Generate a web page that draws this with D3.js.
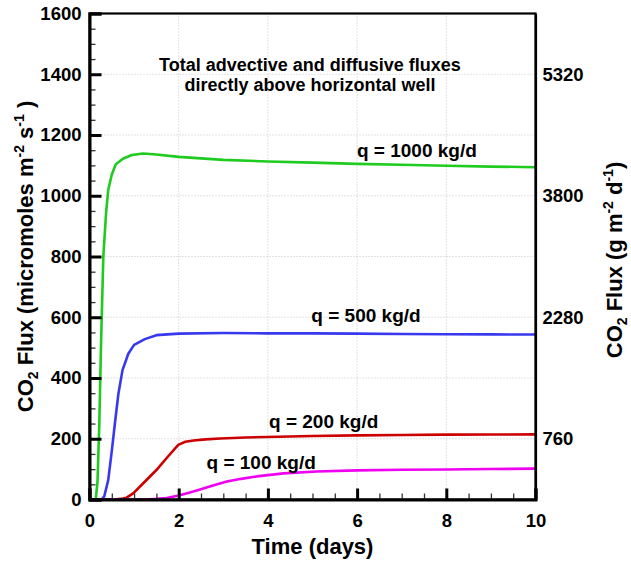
<!DOCTYPE html>
<html>
<head>
<meta charset="utf-8">
<script src="https://cdn.jsdelivr.net/npm/d3@7"></script>
<style>
  body { margin: 0; background: #fff; }
  svg { display: block; font-family: "Liberation Sans", Arial, sans-serif; font-weight: bold; }
</style>
</head>
<body>
<svg id="chart" width="631" height="565"></svg>
<script>
// Time (days) and CO2 flux (micromoles m-2 s-1) for each injection rate
const t1000 = [0, 0.14, 0.18, 0.22, 0.26, 0.31, 0.37, 0.42, 0.5, 0.59, 0.75, 0.95, 1.2, 1.5, 2, 3, 4, 5, 6, 7, 8, 9, 10];
const q1000 = [0, 0, 60, 250, 520, 800, 940, 1019, 1070, 1104, 1122, 1134, 1139, 1136, 1128, 1118, 1113, 1109, 1105, 1102, 1099, 1096, 1094];

const t500 = [0, 0.27, 0.33, 0.42, 0.5, 0.57, 0.65, 0.74, 0.87, 1.0, 1.24, 1.5, 2, 3, 4, 5, 6, 7, 8, 9, 10];
const q500 = [0, 0, 10, 64, 160, 251, 350, 426, 480, 509, 528, 541, 546, 548, 547, 547, 546, 545, 544, 543.5, 543];

const t200 = [0, 0.45, 0.6, 0.75, 0.83, 0.98, 1.25, 1.5, 1.75, 1.99, 2.15, 2.33, 2.6, 2.93, 3.5, 3.97, 5, 6, 7, 8, 9, 10];
const q200 = [0, 0, 1, 3, 6, 20, 60, 97, 140, 180, 190, 194, 198, 201, 204, 206, 209, 211, 212.5, 213.5, 214, 214.5];

const t100 = [0, 1.28, 1.5, 1.73, 2.0, 2.25, 2.48, 2.75, 3.08, 3.4, 3.75, 4.35, 5.09, 6, 7, 8, 9, 10];
const q100 = [0, 0, 2, 5, 13, 23, 33, 45, 59, 68, 76, 86, 92, 96, 98, 99, 100.5, 101.5];

const seriesNames = ["q = 1000 kg/d", "q = 500 kg/d", "q = 200 kg/d", "q = 100 kg/d"];
const seriesColors = ["#1ecb1e", "#3838ee", "#cc0000", "#f000f0"];

const xTicks = [0, 2, 4, 6, 8, 10];
const yTicks = [0, 200, 400, 600, 800, 1000, 1200, 1400, 1600];
const yRightTicks = [760, 2280, 3800, 5320];

// 1 micromole CO2 m-2 s-1 = 3.8 g m-2 d-1
const convFactor = 3.8;

const titleLines = ["Total advective and diffusive fluxes", "directly above horizontal well"];

const svg = d3.select("#chart");
const plotL = 89.5, plotR = 535.5, plotT = 13.5, plotB = 499.5;

const x = d3.scaleLinear().domain([0, 10]).range([plotL, plotR]);
const y = d3.scaleLinear().domain([0, 1600]).range([plotB, plotT]);
const yR = d3.scaleLinear().domain([0, 1600 * convFactor]).range([plotB, plotT]);

// dotted grid at the major ticks
const grid = svg.append("g").attr("stroke", "#c4c4c4").attr("stroke-width", 1).attr("stroke-dasharray", "1,2");
xTicks.filter(v => v > 0 && v < 10).forEach(v => {
  grid.append("line").attr("x1", x(v)).attr("x2", x(v)).attr("y1", plotT).attr("y2", plotB);
});
yTicks.filter(v => v > 0 && v < 1600).forEach(v => {
  grid.append("line").attr("x1", plotL).attr("x2", plotR).attr("y1", y(v)).attr("y2", y(v));
});

// curves
const series = [[t1000, q1000], [t500, q500], [t200, q200], [t100, q100]];
const line = d3.line().x(d => x(d[0])).y(d => y(d[1]));
series.forEach((s, i) => {
  const pts = s[0].map((t, j) => [t, s[1][j]]);
  svg.append("path").datum(pts)
    .attr("fill", "none")
    .attr("stroke", seriesColors[i])
    .attr("stroke-width", 2.6)
    .attr("stroke-linejoin", "round")
    .attr("d", line);
});

// curve labels, anchored in data space
const labelPos = [[7.34, 1128], [6.2, 585], [5.25, 235], [3.85, 100]];
seriesNames.forEach((name, i) => {
  svg.append("text")
    .attr("x", x(labelPos[i][0]))
    .attr("y", y(labelPos[i][1]))
    .attr("text-anchor", "middle")
    .attr("font-size", 19)
    .attr("fill", "#000")
    .text(name);
});

// frame
svg.append("rect")
  .attr("x", plotL).attr("y", plotT)
  .attr("width", plotR - plotL).attr("height", plotB - plotT)
  .attr("fill", "none").attr("stroke", "#000").attr("stroke-width", 2.2);

// minor ticks
const minorX = d3.range(0, 10.01, 0.5).filter(v => v % 2 !== 0);
const minorY = d3.range(0, 1600.1, 50).filter(v => v % 200 !== 0);
const gMinX = svg.append("g").attr("transform", `translate(0,${plotB})`)
  .call(d3.axisBottom(x).tickValues(minorX).tickSize(-6).tickFormat(""));
const gMinY = svg.append("g").attr("transform", `translate(${plotL},0)`)
  .call(d3.axisLeft(y).tickValues(minorY).tickSize(-6).tickFormat(""));
[gMinX, gMinY].forEach(g => {
  g.select(".domain").remove();
  g.selectAll(".tick line").attr("stroke", "#333").attr("stroke-width", 1.3);
});

// major ticks and labels
const gx = svg.append("g").attr("transform", `translate(0,${plotB})`)
  .call(d3.axisBottom(x).tickValues(xTicks).tickSize(-11).tickPadding(14).tickFormat(d3.format("d")));
const gy = svg.append("g").attr("transform", `translate(${plotL},0)`)
  .call(d3.axisLeft(y).tickValues(yTicks).tickSize(-12).tickPadding(8).tickFormat(d3.format("d")));
const gr = svg.append("g").attr("transform", `translate(${plotR},0)`)
  .call(d3.axisRight(yR).tickValues(yRightTicks).tickSize(0).tickPadding(7).tickFormat(d3.format("d")));

[gx, gy, gr].forEach(g => {
  g.select(".domain").attr("stroke", "#000").attr("stroke-width", 3);
  g.selectAll(".tick line").attr("stroke", "#000").attr("stroke-width", 3);
  g.selectAll(".tick text")
    .attr("fill", "#000")
    .attr("font-size", 18.5)
    .attr("font-family", "Liberation Sans, Arial, sans-serif")
    .attr("font-weight", "bold");
});
gr.select(".domain").attr("stroke-width", 2.2);

// chart title, one text per line
titleLines.forEach((s, i) => {
  svg.append("text")
    .attr("x", 310).attr("y", 70.5 + i * 20.8)
    .attr("text-anchor", "middle")
    .attr("font-size", 18)
    .attr("fill", "#000")
    .text(s);
});

svg.append("text")
  .attr("x", (plotL + plotR) / 2).attr("y", 554)
  .attr("text-anchor", "middle")
  .attr("font-size", 22)
  .attr("fill", "#000")
  .text("Time (days)");

// rotated axis title with sub/superscripts
function axisTitle(cx, cy, parts) {
  const t = svg.append("text")
    .attr("transform", `translate(${cx},${cy}) rotate(-90)`)
    .attr("text-anchor", "middle")
    .attr("font-size", 22)
    .attr("fill", "#000");
  parts.forEach(p => {
    const sp = t.append("tspan").text(p.s);
    if (p.sub) sp.attr("font-size", 14).attr("dy", 5);
    else if (p.sup) sp.attr("font-size", 14).attr("dy", -9);
    if (p.back) sp.attr("dy", p.back);
  });
  return t;
}

axisTitle(33, 256.5, [
  { s: "CO" }, { s: "2", sub: true }, { s: " Flux (micromoles m", back: -5 },
  { s: "-2", sup: true }, { s: " s", back: 9 }, { s: "-1", sup: true }, { s: " )", back: 9 }
]);

axisTitle(622, 260, [
  { s: "CO" }, { s: "2", sub: true }, { s: " Flux (g m", back: -5 },
  { s: "-2", sup: true }, { s: " d", back: 9 }, { s: "-1", sup: true }, { s: ")", back: 9 }
]);
</script>
</body>
</html>
